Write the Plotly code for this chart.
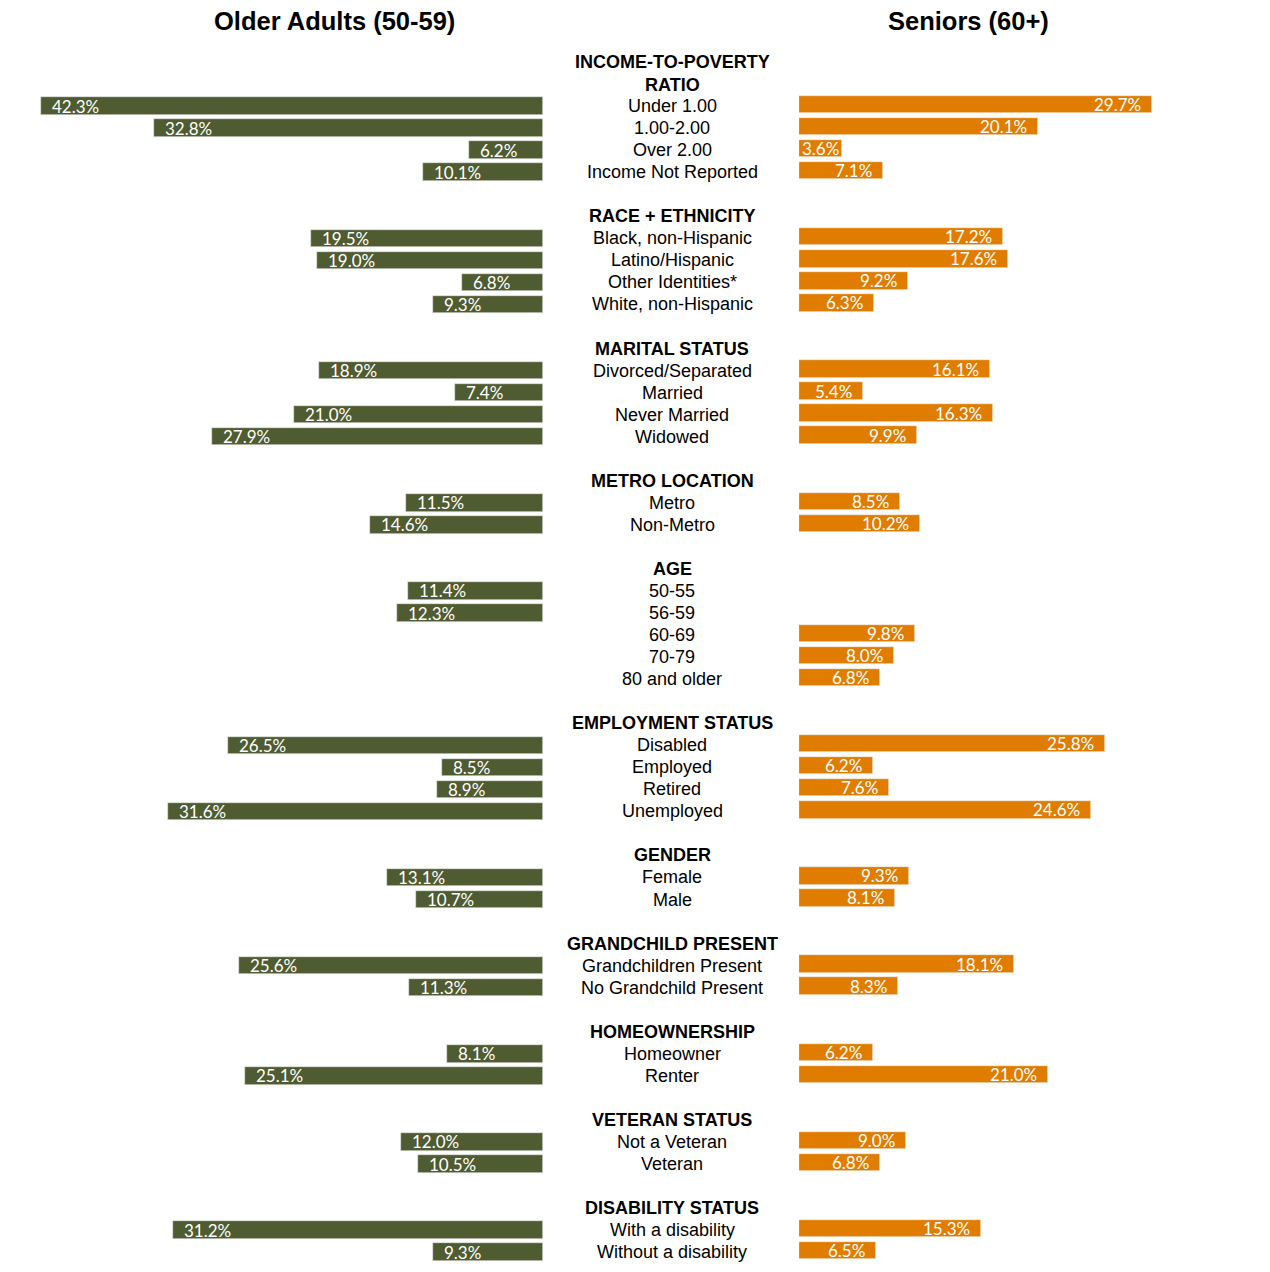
import plotly.graph_objects as go

# ---- data ----
group_headers = ["INCOME-TO-POVERTY<br>RATIO", "RACE + ETHNICITY", "MARITAL STATUS", "METRO LOCATION",
                 "AGE", "EMPLOYMENT STATUS", "GENDER", "GRANDCHILD PRESENT", "HOMEOWNERSHIP",
                 "VETERAN STATUS", "DISABILITY STATUS"]
group_items = [
    ["Under 1.00", "1.00-2.00", "Over 2.00", "Income Not Reported"],
    ["Black, non-Hispanic", "Latino/Hispanic", "Other Identities*", "White, non-Hispanic"],
    ["Divorced/Separated", "Married", "Never Married", "Widowed"],
    ["Metro", "Non-Metro"],
    ["50-55", "56-59", "60-69", "70-79", "80 and older"],
    ["Disabled", "Employed", "Retired", "Unemployed"],
    ["Female", "Male"],
    ["Grandchildren Present", "No Grandchild Present"],
    ["Homeowner", "Renter"],
    ["Not a Veteran", "Veteran"],
    ["With a disability", "Without a disability"],
]
older_adults = [42.3, 32.8, 6.2, 10.1,
                19.5, 19.0, 6.8, 9.3,
                18.9, 7.4, 21.0, 27.9,
                11.5, 14.6,
                11.4, 12.3, None, None, None,
                26.5, 8.5, 8.9, 31.6,
                13.1, 10.7,
                25.6, 11.3,
                8.1, 25.1,
                12.0, 10.5,
                31.2, 9.3]
seniors = [29.7, 20.1, 3.6, 7.1,
           17.2, 17.6, 9.2, 6.3,
           16.1, 5.4, 16.3, 9.9,
           8.5, 10.2,
           None, None, 9.8, 8.0, 6.8,
           25.8, 6.2, 7.6, 24.6,
           9.3, 8.1,
           18.1, 8.3,
           6.2, 21.0,
           9.0, 6.8,
           15.3, 6.5]
title_left = "Older Adults (50-59)"
title_right = "Seniors (60+)"

OLIVE = "#4F5B31"
ORANGE = "#E07D00"
LABEL_FONT = "Liberation Sans, Arial, sans-serif"
VALUE_FONT = "Lato, sans-serif"

# ---- layout of rows ----
header_rows = []
item_rows = []
item_labels = []
r = 0
for gi, (h, items) in enumerate(zip(group_headers, group_items)):
    nlines = h.count("<br>") + 1
    header_rows.append(r + (nlines - 1) / 2)
    r += nlines
    for it in items:
        item_rows.append(r)
        item_labels.append(it)
        r += 1
    r += 1  # blank spacer

W, H = 1270, 1272
OFF = 8  # page body margin compensation
row_px = 22.04
top_px = 62 - OFF
y_top = -top_px / row_px
y_bot = y_top + H / row_px
px_per_pct = 11.875
left_zero = 543 - OFF
right_zero = 799 - OFF

fig = go.Figure()
ly = [y for y, v in zip(item_rows, older_adults) if v is not None]
lv = [v for v in older_adults if v is not None]
ry = [y for y, v in zip(item_rows, seniors) if v is not None]
rv = [v for v in seniors if v is not None]

fig.add_trace(go.Bar(x=lv, y=ly, orientation="h", marker=dict(color=OLIVE, line=dict(width=0.6, color="#e6e6e6")),
                     width=0.79, xaxis="x", yaxis="y", hoverinfo="skip"))
fig.add_trace(go.Bar(x=rv, y=[y - 0.07 for y in ry], orientation="h",
                     marker=dict(color=ORANGE, line=dict(width=0.6, color="#f2f2f2")),
                     width=0.79, xaxis="x2", yaxis="y", hoverinfo="skip"))

annotations = []
for y, v in zip(ly, lv):
    annotations.append(dict(x=v, y=y, xref="x", yref="y", text=f"{v:.1f}%", showarrow=False,
                            xanchor="left", xshift=9, font=dict(family=VALUE_FONT, size=17, color="white")))
for y, v in zip(ry, rv):
    annotations.append(dict(x=v, y=y - 0.07, xref="x2", yref="y", text=f"{v:.1f}%", showarrow=False,
                            xanchor="right", xshift=-9 if v > 5 else -1,
                            font=dict(family=VALUE_FONT, size=17, color="white")))
cx = (672 - OFF) / W
for y, h in zip(header_rows, group_headers):
    annotations.append(dict(x=cx, y=y, xref="paper", yref="y", text=f"<b>{h}</b>", showarrow=False,
                            xanchor="center", font=dict(family=LABEL_FONT, size=18, color="black")))
for y, t in zip(item_rows, item_labels):
    annotations.append(dict(x=cx, y=y, xref="paper", yref="y", text=t, showarrow=False,
                            xanchor="center", font=dict(family=LABEL_FONT, size=18, color="black")))
annotations.append(dict(x=(334 - OFF) / W, y=1 - (21 - OFF) / H, xref="paper", yref="paper",
                        text=f"<b>{title_left}</b>", showarrow=False, xanchor="center", yanchor="middle",
                        font=dict(family=LABEL_FONT, size=25.5, color="black")))
annotations.append(dict(x=(968 - OFF) / W, y=1 - (21 - OFF) / H, xref="paper", yref="paper",
                        text=f"<b>{title_right}</b>", showarrow=False, xanchor="center", yanchor="middle",
                        font=dict(family=LABEL_FONT, size=25.5, color="black")))

fig.update_layout(
    width=W, height=H, margin=dict(l=0, r=0, t=0, b=0),
    plot_bgcolor="white", paper_bgcolor="white", showlegend=False,
    xaxis=dict(domain=[0, left_zero / W], range=[left_zero / px_per_pct, 0], visible=False, fixedrange=True),
    xaxis2=dict(domain=[right_zero / W, 1], range=[0, (W - right_zero) / px_per_pct], visible=False,
                anchor="y", fixedrange=True),
    yaxis=dict(range=[y_bot, y_top], visible=False, fixedrange=True),
    annotations=annotations,
    bargap=0,
)
fig.write_html("out.html")
